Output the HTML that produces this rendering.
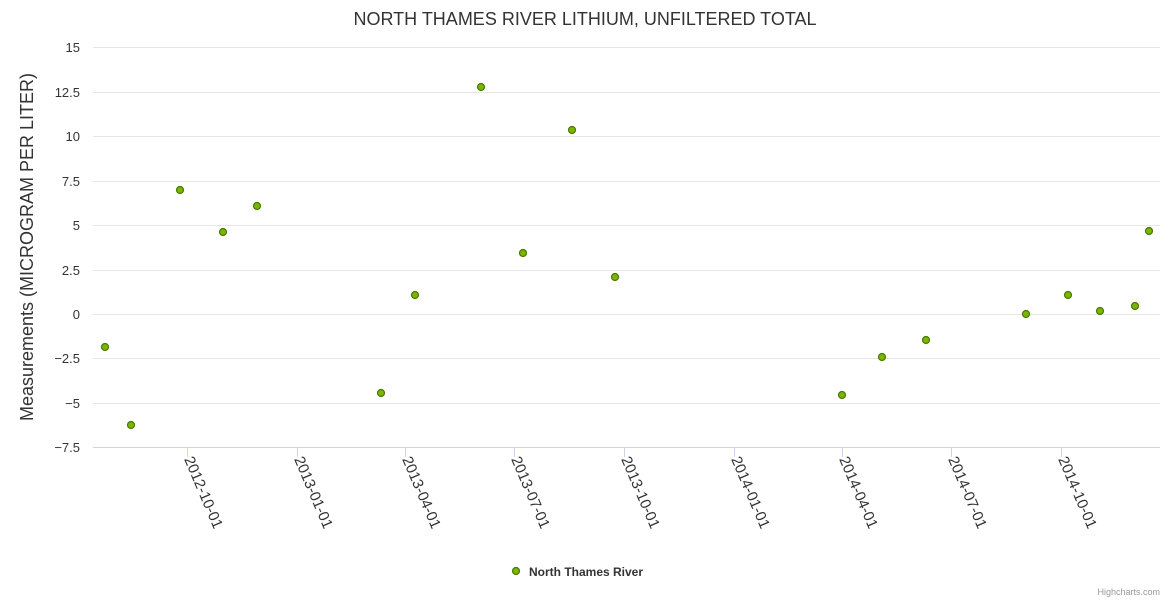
<!DOCTYPE html>
<html><head><meta charset="utf-8"><style>body{margin:0;background:#fff}svg{display:block;font-family:"Liberation Sans","DejaVu Sans",sans-serif}</style></head>
<body>
<svg width="1170" height="600" viewBox="0 0 1170 600">
<text x="585" y="25" text-anchor="middle" font-size="18" fill="#333">NORTH THAMES RIVER LITHIUM, UNFILTERED TOTAL</text>
<g stroke="#e6e6e6" stroke-width="1">
<line x1="93" x2="1160" y1="47.5" y2="47.5"/><line x1="93" x2="1160" y1="92.5" y2="92.5"/>
<line x1="93" x2="1160" y1="136.5" y2="136.5"/><line x1="93" x2="1160" y1="181.5" y2="181.5"/>
<line x1="93" x2="1160" y1="225.5" y2="225.5"/><line x1="93" x2="1160" y1="270.5" y2="270.5"/>
<line x1="93" x2="1160" y1="314.5" y2="314.5"/><line x1="93" x2="1160" y1="358.5" y2="358.5"/>
<line x1="93" x2="1160" y1="403.5" y2="403.5"/>
</g>
<line x1="93" x2="1160" y1="447.5" y2="447.5" stroke="#ccd6eb"/>
<g stroke="#ccd6eb">
<line x1="187.5" x2="187.5" y1="447" y2="457"/><line x1="297.5" x2="297.5" y1="447" y2="457"/>
<line x1="405.5" x2="405.5" y1="447" y2="457"/><line x1="514.5" x2="514.5" y1="447" y2="457"/>
<line x1="624.5" x2="624.5" y1="447" y2="457"/><line x1="734.5" x2="734.5" y1="447" y2="457"/>
<line x1="842.5" x2="842.5" y1="447" y2="457"/><line x1="951.5" x2="951.5" y1="447" y2="457"/>
<line x1="1061.5" x2="1061.5" y1="447" y2="457"/>
</g>
<g font-size="13" fill="#333" text-anchor="end">
<text x="80" y="52">15</text><text x="80" y="97">12.5</text><text x="80" y="141">10</text>
<text x="80" y="186">7.5</text><text x="80" y="230">5</text><text x="80" y="275">2.5</text>
<text x="80" y="319">0</text><text x="80" y="363">−2.5</text><text x="80" y="408">−5</text>
<text x="80" y="452">−7.5</text>
</g>
<text transform="translate(33,247) rotate(-90)" text-anchor="middle" font-size="18" fill="#333">Measurements (MICROGRAM PER LITER)</text>
<g font-size="15" fill="#333">
<text transform="translate(184,459) rotate(67)">2012-10-01</text>
<text transform="translate(294,459) rotate(67)">2013-01-01</text>
<text transform="translate(402,459) rotate(67)">2013-04-01</text>
<text transform="translate(511,459) rotate(67)">2013-07-01</text>
<text transform="translate(621,459) rotate(67)">2013-10-01</text>
<text transform="translate(731,459) rotate(67)">2014-01-01</text>
<text transform="translate(839,459) rotate(67)">2014-04-01</text>
<text transform="translate(948,459) rotate(67)">2014-07-01</text>
<text transform="translate(1058,459) rotate(67)">2014-10-01</text>
</g>
<g fill="#7cb500" stroke="#4a7a00" stroke-width="1.2">
<circle cx="105" cy="347" r="3.5"/><circle cx="131" cy="425" r="3.5"/><circle cx="180" cy="190" r="3.5"/>
<circle cx="223" cy="232" r="3.5"/><circle cx="257" cy="206" r="3.5"/><circle cx="381" cy="393" r="3.5"/>
<circle cx="415" cy="295" r="3.5"/><circle cx="481" cy="87" r="3.5"/><circle cx="523" cy="253" r="3.5"/>
<circle cx="572" cy="130" r="3.5"/><circle cx="615" cy="277" r="3.5"/><circle cx="842" cy="395" r="3.5"/>
<circle cx="882" cy="357" r="3.5"/><circle cx="926" cy="340" r="3.5"/><circle cx="1026" cy="314" r="3.5"/>
<circle cx="1068" cy="295" r="3.5"/><circle cx="1100" cy="311" r="3.5"/><circle cx="1135" cy="306" r="3.5"/>
<circle cx="1149" cy="231" r="3.5"/>
<circle cx="516" cy="571" r="3.5"/>
</g>
<text x="529" y="576" font-size="12" font-weight="bold" fill="#333">North Thames River</text>
<text x="1160" y="595" text-anchor="end" font-size="9" fill="#999">Highcharts.com</text>
</svg>
</body></html>
